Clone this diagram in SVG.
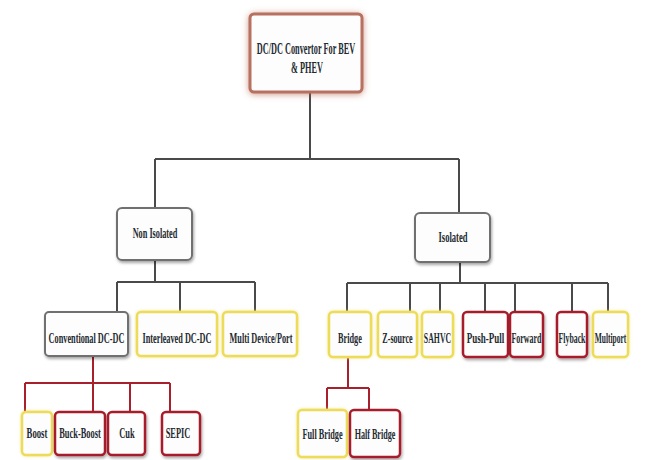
<svg xmlns="http://www.w3.org/2000/svg" width="646" height="460" viewBox="0 0 646 460">
<defs>
<filter id="sh" x="-20%" y="-20%" width="140%" height="150%">
<feDropShadow dx="1" dy="2" stdDeviation="1.5" flood-color="#000" flood-opacity="0.35"/>
</filter>
<filter id="glow" x="-20%" y="-20%" width="140%" height="140%">
<feDropShadow dx="0" dy="0" stdDeviation="1.5" flood-color="#f2e070" flood-opacity="0.8"/>
</filter>
<filter id="rsh" x="-20%" y="-20%" width="140%" height="140%">
<feDropShadow dx="0" dy="1" stdDeviation="3" flood-color="#b05a40" flood-opacity="0.6"/>
</filter>
</defs>
<style>
rect{fill:#fdfdfd;}
.g{stroke:#707070;stroke-width:2;filter:url(#sh);}
.y{stroke:#ecdc5a;stroke-width:2.5;filter:url(#glow);}
.r{stroke:#a61e2c;stroke-width:2.5;filter:url(#sh);}
.root{stroke:#b87060;stroke-width:3;filter:url(#rsh);}
text{font-family:"Liberation Serif","DejaVu Serif",serif;font-weight:bold;font-size:15px;fill:#1e2a30;text-anchor:middle;}
.big{font-size:16px;}
.lk path{fill:none;stroke-width:2;}
.dk{stroke:#4a4a4a;}
.rd{stroke:#a8202c;}
</style>
<g id="connectors" class="lk">
<path class="dk" d="M310 92 V159 M155 159 H459 M155 159 V208 M459 159 V213"/>
<path class="dk" d="M155 260 V282 M117 282 H255 M117 282 V312 M180 282 V312 M255 282 V312"/>
<path class="dk" d="M460 262 V283 M347 283 H608 M347 283 V312 M410 283 V312 M440 283 V312 M485 283 V312 M515 283 V312 M572 283 V312 M608 283 V312"/>
<path class="rd" d="M93 356 V383 M25 383 H170 M25 383 V412 M93 383 V412 M130 383 V412 M170 383 V412"/>
<path class="rd" d="M348 357 V388 M327 388 H369 M327 388 V410 M369 388 V410"/>
</g>
<g id="root"><rect class="root" x="250" y="14" width="112" height="78" rx="4"/>
<text class="big" transform="translate(306 54) scale(0.515 1)">DC/DC Convertor For BEV</text>
<text class="big" transform="translate(307 73) scale(0.515 1)">&amp; PHEV</text></g>
<g id="nonisolated"><rect class="g" x="117" y="208" width="75" height="52" rx="5"/>
<text transform="translate(155 238) scale(0.55 1)">Non Isolated</text></g>
<g id="isolated"><rect class="g" x="415" y="213" width="75" height="49" rx="5"/>
<text transform="translate(453 242) scale(0.57 1)">Isolated</text></g>
<g id="conventional"><rect class="g" x="45" y="312" width="83" height="44" rx="4"/>
<text transform="translate(86.5 343) scale(0.55 1)">Conventional DC-DC</text></g>
<g id="interleaved"><rect class="y" x="137" y="312" width="80" height="44" rx="4"/>
<text transform="translate(177 343) scale(0.55 1)">Interleaved DC-DC</text></g>
<g id="multidevice"><rect class="y" x="223" y="312" width="74" height="44" rx="4"/>
<text transform="translate(261 343) scale(0.55 1)">Multi Device/Port</text></g>
<g id="bridge"><rect class="y" x="329" y="312" width="42" height="45" rx="4"/>
<text transform="translate(350 343) scale(0.55 1)">Bridge</text></g>
<g id="zsource"><rect class="y" x="378" y="312" width="39" height="45" rx="4"/>
<text transform="translate(397.5 343) scale(0.54 1)">Z-source</text></g>
<g id="sahvc"><rect class="y" x="422" y="312" width="31" height="45" rx="4"/>
<text transform="translate(437.5 343) scale(0.52 1)">SAHVC</text></g>
<g id="pushpull"><rect class="r" x="463" y="312" width="45" height="45" rx="4"/>
<text transform="translate(485.5 343) scale(0.6 1)">Push-Pull</text></g>
<g id="forward"><rect class="r" x="510" y="312" width="33" height="45" rx="4"/>
<text transform="translate(526.5 343) scale(0.53 1)">Forward</text></g>
<g id="flyback"><rect class="r" x="557" y="312" width="30" height="45" rx="4"/>
<text transform="translate(572 343) scale(0.52 1)">Flyback</text></g>
<g id="multiport"><rect class="y" x="593" y="312" width="35" height="45" rx="4"/>
<text transform="translate(610.5 343) scale(0.5 1)">Multiport</text></g>
<g id="boost"><rect class="y" x="22" y="412" width="30" height="43" rx="4"/>
<text transform="translate(37 438) scale(0.58 1)">Boost</text></g>
<g id="buckboost"><rect class="r" x="55" y="412" width="50" height="43" rx="4"/>
<text transform="translate(80 438) scale(0.56 1)">Buck-Boost</text></g>
<g id="cuk"><rect class="r" x="108" y="412" width="37" height="43" rx="4"/>
<text transform="translate(127 438) scale(0.56 1)">Cuk</text></g>
<g id="sepic"><rect class="r" x="162" y="412" width="38" height="43" rx="4"/>
<text transform="translate(178 438) scale(0.56 1)">SEPIC</text></g>
<g id="fullbridge"><rect class="y" x="298" y="410" width="49" height="47" rx="4"/>
<text transform="translate(322.5 439) scale(0.55 1)">Full Bridge</text></g>
<g id="halfbridge"><rect class="r" x="350" y="410" width="50" height="47" rx="4"/>
<text transform="translate(375 439) scale(0.54 1)">Half Bridge</text></g>
</svg>
